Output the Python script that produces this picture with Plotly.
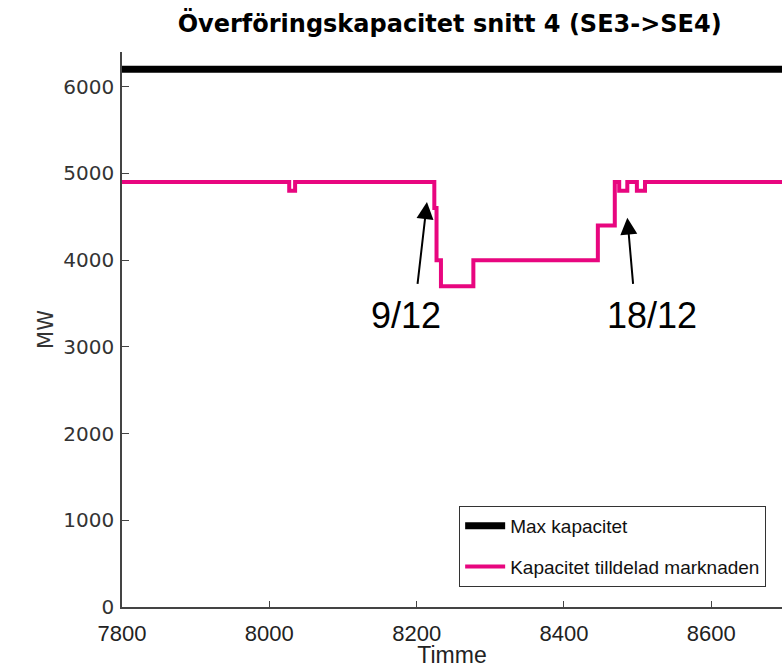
import plotly.graph_objects as go

# Data
max_hours = [7800, 8760]
max_mw = [6200, 6200]

alloc_hours = [7800, 8027, 8035, 8224, 8227, 8233, 8277, 8446, 8469, 8475, 8486, 8499, 8510, 8760]
alloc_mw = [4900, 4800, 4900, 4600, 4000, 3700, 4000, 4400, 4900, 4800, 4900, 4800, 4900, 4900]

x_ticks = [7800, 8000, 8200, 8400, 8600]
y_ticks = [0, 1000, 2000, 3000, 4000, 5000, 6000]

# Arrow annotations: (label, text x, text y, tip x, tip y, tail x, tail y)
callouts = [
    ("9/12", 8186, 3363, 8214, 4670, 8201, 3709),
    ("18/12", 8520, 3363, 8486, 4490, 8494, 3709),
]

PINK = "#e8067f"
AXIS = "#444444"

fig = go.Figure()

fig.add_trace(go.Scatter(
    x=max_hours, y=max_mw, mode="lines", name="Max kapacitet",
    line=dict(color="black", width=7), legendgroup="a",
))
fig.add_trace(go.Scatter(
    x=alloc_hours, y=alloc_mw, mode="lines", name="Kapacitet tilldelad marknaden",
    line=dict(color=PINK, width=4, shape="hv"), legendgroup="b",
))

for label, tx, ty, hx, hy, ax_, ay_ in callouts:
    fig.add_annotation(
        x=hx, y=hy, ax=ax_, ay=ay_, xref="x", yref="y", axref="x", ayref="y",
        text="", showarrow=True, arrowhead=2, arrowsize=1.7, arrowwidth=2,
        arrowcolor="black", standoff=0,
    )
    fig.add_annotation(
        x=tx, y=ty, xref="x", yref="y", text=label, showarrow=False,
        font=dict(family="Liberation Sans, Arial", size=36, color="black"),
    )

fig.update_layout(
    width=782, height=668,
    margin=dict(l=122, r=0, t=52, b=61),
    paper_bgcolor="white", plot_bgcolor="white",
    title=dict(
        text="<b>Överföringskapacitet snitt 4 (SE3->SE4)</b>",
        x=0.575, xref="container", xanchor="center", y=0.965, yanchor="middle",
        font=dict(family="DejaVu Sans", size=24, color="black"),
    ),
    showlegend=True,
    legend=dict(
        x=0.976, y=0.182, xanchor="right", yanchor="top",
        bordercolor="#333333", borderwidth=1, bgcolor="white",
        font=dict(family="Liberation Sans, Arial", size=19, color="#111111"),
        itemwidth=40, traceorder="grouped", tracegroupgap=13,
    ),
)

fig.update_xaxes(
    range=[7800, 8696], tickvals=x_ticks, ticks="inside", ticklen=6,
    tickcolor=AXIS, showline=True, linecolor=AXIS, linewidth=1.5,
    showgrid=False, zeroline=False, mirror=False, ticklabelstandoff=6,
    tickfont=dict(family="Liberation Sans, Arial", size=22, color="#222222"),
    title=dict(text="Timme", standoff=2,
               font=dict(family="Liberation Sans, Arial", size=23, color="#222222")),
)
fig.update_yaxes(
    range=[0, 6400], tickvals=y_ticks, ticks="inside", ticklen=7,
    tickcolor=AXIS, showline=True, linecolor=AXIS, linewidth=1.5,
    showgrid=False, zeroline=False, mirror=False, ticklabelstandoff=2,
    tickfont=dict(family="DejaVu Sans", size=20, color="#333333"),
    title=dict(text="MW", standoff=4,
               font=dict(family="DejaVu Sans", size=21, color="#333333")),
)

fig.write_html("out.html", config={"displayModeBar": False},
               post_script="document.body.style.margin='0px';")
